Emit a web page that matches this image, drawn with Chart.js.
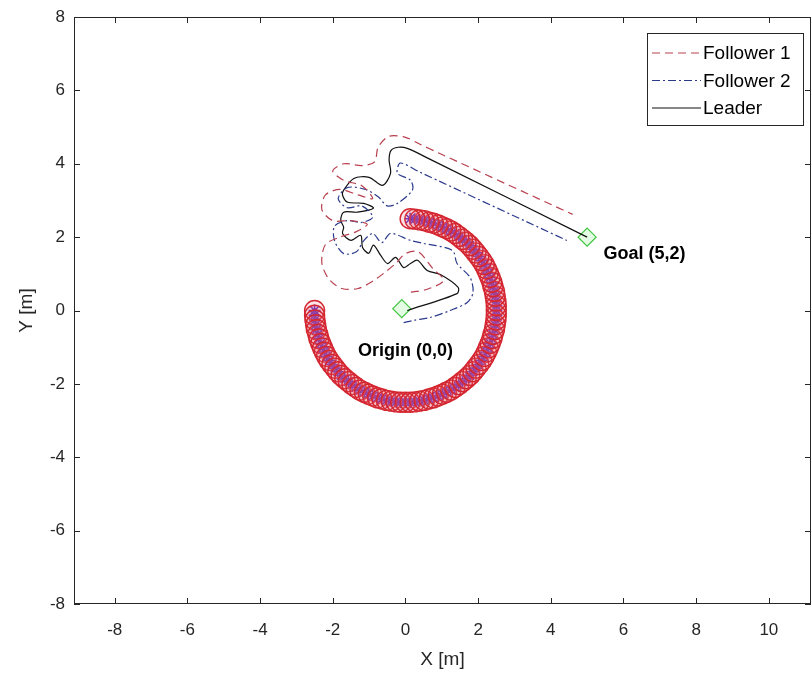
<!DOCTYPE html>
<html>
<head>
<meta charset="utf-8">
<script src="https://cdn.jsdelivr.net/npm/chart.js@4.4.0/dist/chart.umd.min.js"></script>
<style>
  html, body { margin: 0; padding: 0; background: #fff; }
  #wrap { width: 812px; height: 677px; }
</style>
</head>
<body>
<div id="wrap"><canvas id="plot" width="812" height="677"></canvas></div>
<script>
// Axis ticks
const xTicks = [-8, -6, -4, -2, 0, 2, 4, 6, 8, 10];
const yTicks = [-8, -6, -4, -2, 0, 2, 4, 6, 8];

// Paths, [x, y] in metres
const leaderPath = [
  [0.05, 0.0], [1.42, 0.46], [1.45, 0.63], [0.96, 0.98], [0.6, 1.09], [0.33, 1.37],
  [0.14, 1.28], [-0.05, 1.17], [-0.27, 1.45], [-0.49, 1.28], [-0.68, 1.5], [-0.88, 1.78],
  [-1.01, 1.56], [-1.18, 1.72], [-1.23, 2.05], [-1.5, 1.91], [-1.73, 2.1], [-1.7, 2.27],
  [-1.78, 2.46], [-1.7, 2.68], [-1.32, 2.68], [-0.88, 2.79], [-1.15, 2.92], [-1.59, 2.95],
  [-1.73, 3.14], [-1.7, 3.28], [-1.42, 3.6], [-1.0, 3.63], [-0.63, 3.41], [-0.41, 3.74],
  [-0.45, 4.1], [-0.4, 4.36], [-0.2, 4.45], [0.05, 4.42], [0.6, 4.16], [5.0, 2.0]
];
const follower1Path = [
  [0.15, 0.5], [0.6, 0.58], [1.05, 0.82], [0.75, 1.15], [0.35, 1.6], [0.0, 1.55],
  [-0.25, 1.3], [-0.55, 1.05], [-0.9, 0.8], [-1.3, 0.6], [-1.75, 0.6], [-2.1, 0.85],
  [-2.3, 1.3], [-2.2, 1.8], [-1.8, 2.0], [-1.35, 2.15], [-1.05, 2.35], [-1.5, 2.45],
  [-2.0, 2.45], [-2.3, 2.75], [-2.2, 3.15], [-1.8, 3.3], [-1.3, 3.15], [-0.9, 3.05],
  [-1.2, 3.4], [-1.7, 3.55], [-2.0, 3.8], [-1.7, 4.0], [-1.2, 3.95], [-0.85, 4.05],
  [-0.75, 4.45], [-0.45, 4.75], [0.0, 4.72], [0.4, 4.53], [0.9, 4.3], [4.6, 2.62]
];
const follower2Path = [
  [-0.05, -0.33], [0.22, -0.27], [0.68, -0.19], [1.23, 0.0], [1.7, 0.22], [1.86, 0.49],
  [1.78, 0.9], [1.42, 1.28], [1.29, 1.64], [0.49, 1.83], [0.14, 1.91], [-0.41, 2.1],
  [-0.65, 1.85], [-0.9, 2.1], [-1.15, 1.9], [-1.35, 1.6], [-1.7, 1.55], [-1.95, 1.9],
  [-1.95, 2.3], [-1.6, 2.45], [-1.2, 2.4], [-0.9, 2.55], [-1.2, 2.85], [-1.6, 2.8],
  [-1.85, 3.05], [-1.6, 3.35], [-1.1, 3.3], [-0.75, 3.1], [-0.5, 2.85], [-0.22, 2.92],
  [0.19, 3.28], [0.14, 3.55], [-0.22, 3.74], [-0.14, 4.02], [0.4, 3.77], [4.44, 1.91]
];

// Obstacle ring (red circles with blue asterisks)
const obstacles = [
  [-2.50, 0.00], [-2.50, -0.13], [-2.49, -0.26], [-2.47, -0.39], [-2.45, -0.52], [-2.41, -0.65],
  [-2.38, -0.77], [-2.33, -0.90], [-2.28, -1.02], [-2.23, -1.13], [-2.17, -1.25], [-2.10, -1.36],
  [-2.02, -1.47], [-1.94, -1.57], [-1.86, -1.67], [-1.77, -1.77], [-1.67, -1.86], [-1.57, -1.94],
  [-1.47, -2.02], [-1.36, -2.10], [-1.25, -2.17], [-1.13, -2.23], [-1.02, -2.28], [-0.90, -2.33],
  [-0.77, -2.38], [-0.65, -2.41], [-0.52, -2.45], [-0.39, -2.47], [-0.26, -2.49], [-0.13, -2.50],
  [0.00, -2.50], [0.13, -2.50], [0.26, -2.49], [0.39, -2.47], [0.52, -2.45], [0.65, -2.41],
  [0.77, -2.38], [0.90, -2.33], [1.02, -2.28], [1.13, -2.23], [1.25, -2.17], [1.36, -2.10],
  [1.47, -2.02], [1.57, -1.94], [1.67, -1.86], [1.77, -1.77], [1.86, -1.67], [1.94, -1.57],
  [2.02, -1.47], [2.10, -1.36], [2.17, -1.25], [2.23, -1.13], [2.28, -1.02], [2.33, -0.90],
  [2.38, -0.77], [2.41, -0.65], [2.45, -0.52], [2.47, -0.39], [2.49, -0.26], [2.50, -0.13],
  [2.50, 0.00], [2.50, 0.13], [2.49, 0.26], [2.47, 0.39], [2.45, 0.52], [2.41, 0.65],
  [2.38, 0.77], [2.33, 0.90], [2.28, 1.02], [2.23, 1.13], [2.17, 1.25], [2.10, 1.36],
  [2.02, 1.47], [1.94, 1.57], [1.86, 1.67], [1.77, 1.77], [1.67, 1.86], [1.57, 1.94],
  [1.47, 2.02], [1.36, 2.10], [1.25, 2.17], [1.13, 2.23], [1.02, 2.28], [0.90, 2.33],
  [0.77, 2.38], [0.65, 2.41], [0.52, 2.45], [0.39, 2.47], [0.26, 2.49], [0.13, 2.50]
];

// Start / goal markers
const endPoints = [[-0.1, 0.05], [5.0, 2.0]];

const pointLabels = [
  { text: 'Origin (0,0)', x: 0.0, y: -1.1, align: 'center' },
  { text: 'Goal (5,2)', x: 5.45, y: 1.55, align: 'left' }
];

const legendItems = [
  { label: 'Follower 1', color: '#b8404e', dash: [8, 5] },
  { label: 'Follower 2', color: '#2b3a8c', dash: [8, 3, 2, 3] },
  { label: 'Leader', color: '#111111', dash: [] }
];

const toXY = arr => arr.map(p => ({ x: p[0], y: p[1] }));
const FONT = '"Liberation Sans", Arial, Helvetica, sans-serif';

// Box, inward ticks, text labels and legend
const matlabFrame = {
  id: 'matlabFrame',
  afterDatasetsDraw(chart) {
    const { ctx, chartArea: a, scales: { x, y } } = chart;
    ctx.save();
    ctx.strokeStyle = '#262626';
    ctx.lineWidth = 1;
    ctx.setLineDash([]);
    ctx.strokeRect(a.left + 0.5, a.top + 0.5, a.right - a.left - 1, a.bottom - a.top - 1);
    ctx.beginPath();
    xTicks.forEach(v => {
      const px = Math.round(x.getPixelForValue(v)) + 0.5;
      ctx.moveTo(px, a.bottom); ctx.lineTo(px, a.bottom - 6);
      ctx.moveTo(px, a.top); ctx.lineTo(px, a.top + 6);
    });
    yTicks.forEach(v => {
      const py = Math.round(y.getPixelForValue(v)) + 0.5;
      ctx.moveTo(a.left, py); ctx.lineTo(a.left + 6, py);
      ctx.moveTo(a.right, py); ctx.lineTo(a.right - 6, py);
    });
    ctx.stroke();

    // text next to start / goal
    ctx.fillStyle = '#000';
    ctx.font = 'bold 18px ' + FONT;
    ctx.textBaseline = 'middle';
    pointLabels.forEach(l => {
      ctx.textAlign = l.align;
      ctx.fillText(l.text, x.getPixelForValue(l.x), y.getPixelForValue(l.y));
    });

    // legend box
    const bx = 647, by = 33, bw = 156, bh = 92;
    ctx.fillStyle = '#fff';
    ctx.fillRect(bx, by, bw, bh);
    ctx.strokeStyle = '#262626';
    ctx.strokeRect(bx + 0.5, by + 0.5, bw, bh);
    ctx.font = '19px ' + FONT;
    ctx.textAlign = 'left';
    legendItems.forEach((it, i) => {
      const ly = by + 20 + i * 27.5;
      ctx.strokeStyle = it.color;
      ctx.lineWidth = 1.2;
      ctx.setLineDash(it.dash);
      ctx.beginPath();
      ctx.moveTo(bx + 5, ly); ctx.lineTo(bx + 54, ly);
      ctx.stroke();
      ctx.fillStyle = '#000';
      ctx.fillText(it.label, bx + 56, ly + 1);
    });
    ctx.restore();
  }
};

const pathStyle = { showLine: true, pointRadius: 0, borderWidth: 1.2, tension: 0.3, fill: false };

new Chart(document.getElementById('plot'), {
  type: 'scatter',
  data: {
    datasets: [
      { label: 'obstacle', data: toXY(obstacles), pointStyle: 'circle', pointRadius: 10,
        borderColor: '#d42630', backgroundColor: 'rgba(232,96,112,0.16)', borderWidth: 1.4, showLine: false },
      { label: 'obstacle centre', data: toXY(obstacles), pointStyle: 'star', pointRadius: 6,
        borderColor: '#4c28d0', borderWidth: 1.6, showLine: false },
      { label: 'Follower 1', data: toXY(follower1Path), borderColor: '#b8404e',
        borderDash: [8, 5], ...pathStyle },
      { label: 'Follower 2', data: toXY(follower2Path), borderColor: '#2b3a8c',
        borderDash: [8, 3, 2, 3], ...pathStyle },
      { label: 'Leader', data: toXY(leaderPath), borderColor: '#111111', ...pathStyle },
      { label: 'start/goal', data: toXY(endPoints), pointStyle: 'rectRot', pointRadius: 9,
        borderColor: '#3fc43f', backgroundColor: 'rgba(210,250,210,0.6)', borderWidth: 1.2, showLine: false }
    ]
  },
  options: {
    responsive: false,
    animation: false,
    layout: { autoPadding: false, padding: { left: 0, right: 1, top: 17, bottom: 0 } },
    plugins: { legend: { display: false }, tooltip: { enabled: false } },
    scales: {
      x: {
        type: 'linear', min: -9.12, max: 11.16,
        grid: { display: false, drawTicks: false },
        border: { display: false },
        afterBuildTicks: s => { s.ticks = xTicks.map(v => ({ value: v })); },
        afterFit: s => { s.height = 73; s.paddingLeft = 0; s.paddingRight = 0; },
        ticks: { color: '#262626', font: { family: FONT, size: 17 }, padding: 16, maxRotation: 0 },
        title: { display: true, text: 'X [m]', color: '#262626', font: { family: FONT, size: 19 },
          padding: { top: 0, bottom: 6 } }
      },
      y: {
        type: 'linear', min: -8, max: 8,
        grid: { display: false, drawTicks: false },
        border: { display: false },
        afterBuildTicks: s => { s.ticks = yTicks.map(v => ({ value: v })); },
        afterFit: s => { s.width = 74; s.paddingTop = 0; s.paddingBottom = 0; },
        ticks: { color: '#262626', font: { family: FONT, size: 17 }, padding: 9 },
        title: { display: true, text: 'Y [m]', color: '#262626', font: { family: FONT, size: 19 },
          padding: { top: 15, bottom: 0 } }
      }
    }
  },
  plugins: [matlabFrame]
});
</script>
</body>
</html>
